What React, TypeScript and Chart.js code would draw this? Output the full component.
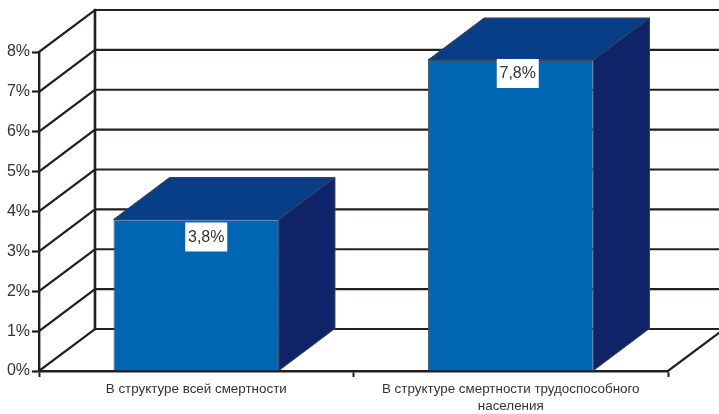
import React, { useEffect, useRef } from "react";
import { Chart, registerables } from "chart.js";

Chart.register(...registerables);

const categories = [
  "В структуре всей смертности",
  ["В структуре смертности трудоспособного", "населения"],
];
const values = [3.8, 7.8];
const valueLabels = ["3,8%", "7,8%"];
const yTicks = [0, 1, 2, 3, 4, 5, 6, 7, 8];

const DX = 56;
const DY = 42;
const INK = "#231f20";
const FRONT = "#0066b3";
const TOP = "#083d87";
const SIDE = "#0e2368";
const FONT = '"Liberation Sans", Arial, sans-serif';
const LABEL_SHIFT = [
  { dx: 10, dy: 3 },
  { dx: 7, dy: -1 },
];

const wallPlugin = {
  id: "wall3d",
  beforeDatasetsDraw(chart: any) {
    const { ctx, chartArea, scales } = chart;
    const y = scales.y;
    ctx.save();
    ctx.strokeStyle = INK;
    ctx.lineWidth = 2.2;
    ctx.lineCap = "square";
    for (const t of yTicks) {
      const py = y.getPixelForValue(t);
      ctx.beginPath();
      ctx.moveTo(chartArea.left, py);
      ctx.lineTo(chartArea.left + DX, py - DY);
      ctx.lineTo(chartArea.right + DX, py - DY);
      ctx.stroke();
    }
    ctx.lineWidth = 2.6;
    ctx.beginPath();
    ctx.moveTo(chartArea.left + DX, y.getPixelForValue(0) - DY);
    ctx.lineTo(chartArea.left + DX, y.getPixelForValue(8) - DY);
    ctx.stroke();
    ctx.lineWidth = 2.2;
    ctx.beginPath();
    ctx.moveTo(chartArea.right, y.getPixelForValue(0));
    ctx.lineTo(chartArea.right + DX, y.getPixelForValue(0) - DY);
    ctx.stroke();
    ctx.restore();
  },
};

const facesPlugin = {
  id: "faces3d",
  afterDatasetsDraw(chart: any) {
    const { ctx } = chart;
    const bars = chart.getDatasetMeta(0).data;
    ctx.save();
    bars.forEach((bar: any, i: number) => {
      const l = bar.x - bar.width / 2;
      const r = bar.x + bar.width / 2;
      const t = bar.y;
      const b = bar.base;
      ctx.lineWidth = 1;
      ctx.strokeStyle = "#3c4250";
      ctx.lineJoin = "round";
      ctx.fillStyle = TOP;
      ctx.beginPath();
      ctx.moveTo(l, t);
      ctx.lineTo(l + DX, t - DY);
      ctx.lineTo(r + DX, t - DY);
      ctx.lineTo(r, t);
      ctx.closePath();
      ctx.fill();
      ctx.stroke();
      ctx.fillStyle = SIDE;
      ctx.beginPath();
      ctx.moveTo(r, t);
      ctx.lineTo(r + DX, t - DY);
      ctx.lineTo(r + DX, b - DY);
      ctx.lineTo(r, b);
      ctx.closePath();
      ctx.fill();
      ctx.stroke();

      const label = valueLabels[i];
      const shift = LABEL_SHIFT[i];
      ctx.font = `16px ${FONT}`;
      const w = 42;
      const cx = bar.x + shift.dx;
      const top = t + shift.dy;
      ctx.fillStyle = "#ffffff";
      ctx.fillRect(cx - w / 2, top, w, 29);
      ctx.fillStyle = "#333333";
      ctx.textAlign = "center";
      ctx.textBaseline = "middle";
      ctx.fillText(label, cx, top + 15);
    });
    ctx.restore();
  },
};

export default function App() {
  const ref = useRef<HTMLCanvasElement>(null);
  useEffect(() => {
    const chart = new Chart(ref.current as HTMLCanvasElement, {
      type: "bar",
      data: {
        labels: categories as any,
        datasets: [
          {
            data: values,
            backgroundColor: FRONT,
            borderColor: "#4a5360",
            borderWidth: 1,
            barPercentage: 0.526,
            categoryPercentage: 1,
          },
        ],
      },
      plugins: [wallPlugin, facesPlugin],
      options: {
        responsive: false,
        animation: false,
        layout: { padding: { top: 52, right: 51, left: 0, bottom: 0 } },
        plugins: { legend: { display: false }, tooltip: { enabled: false } },
        scales: {
          x: {
            afterFit(s: any) {
              s.height = 43;
            },
            grid: {
              drawOnChartArea: false,
              drawTicks: true,
              tickLength: 6,
              color: INK,
              tickWidth: 2,
            },
            border: { color: INK, width: 2.4 },
            ticks: {
              color: "#333333",
              font: { family: FONT, size: 13.4, lineHeight: 1.32 },
              padding: 3,
              maxRotation: 0,
              autoSkip: false,
            },
          },
          y: {
            min: 0,
            max: 8,
            afterFit(s: any) {
              s.width = 39;
            },
            grid: {
              drawOnChartArea: false,
              drawTicks: true,
              tickLength: 7,
              color: INK,
              tickWidth: 2.2,
            },
            border: { color: INK, width: 2.4 },
            ticks: {
              stepSize: 1,
              color: "#333333",
              padding: 2,
              font: { family: FONT, size: 16 },
              callback: (v: any) => `${v}%`,
            },
          },
        },
      },
    } as any);
    return () => chart.destroy();
  }, []);
  return (
    <div style={{ position: "fixed", left: 0, top: 0, width: 719, height: 414, background: "#fff" }}>
      <canvas ref={ref} width={719} height={414} style={{ display: "block" }} />
    </div>
  );
}
